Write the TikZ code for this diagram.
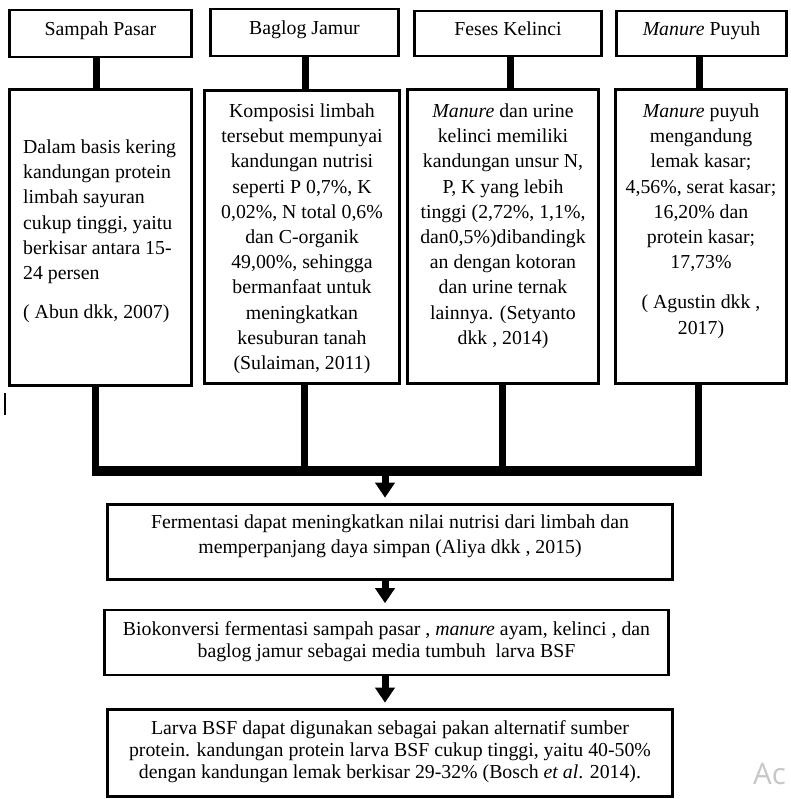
\documentclass[tikz,border=0pt]{standalone}
\usepackage{fontspec}
\setmainfont{Liberation Serif}
\newfontfamily\wmfont{Open Sans}
\usetikzlibrary{arrows.meta}
\begin{document}
\begin{tikzpicture}[x=1pt,y=-1pt,
  box/.style={draw=black, line width=2.6pt, inner sep=0pt, fill=white},
  txt/.style={font=\fontsize{19.8}{25.2}\selectfont, align=center, inner sep=0pt},
  tight/.style={font=\fontsize{19.8}{22.2}\selectfont},
  stem/.style={line width=7pt},
  bar/.style={line width=10pt},
  flow/.style={line width=7pt, -{Triangle[width=19pt,length=15pt]}, shorten >=5.5pt}]
\useasboundingbox (0,0) rectangle (790,799);
\fill[white] (0,0) rectangle (790,799);

% top label boxes
\node[box, minimum width=182pt, minimum height=47pt] (sp) at (100.5,33.5) {};
\node[box, minimum width=188pt, minimum height=47pt] (bj) at (304.5,32.5) {};
\node[box, minimum width=187pt, minimum height=45pt] (fk) at (508,33.5) {};
\node[box, minimum width=170pt, minimum height=45pt] (mp) at (701.5,33.5) {};
\node[txt, anchor=base] (tsp) at (100.5,35.5) {Sampah Pasar};
\node[txt, anchor=base] (tbj) at (304.5,35) {Baglog Jamur};
\node[txt, anchor=base] (tfk) at (508,36) {Feses Kelinci};
\node[txt, anchor=base] (tmp) at (701.5,36) {\textit{Manure} Puyuh};

% content boxes
\node[box, minimum width=182pt, minimum height=296pt] (b1) at (100.5,237.5) {};
\node[box, minimum width=195pt, minimum height=293pt] (b2) at (302,237) {};
\node[box, minimum width=191pt, minimum height=294pt] (b3) at (503,236.5) {};
\node[box, minimum width=171pt, minimum height=294pt] (b4) at (701,236.5) {};

\node[txt, align=left, anchor=north west] (t1) at (23,139.5) {Dalam basis kering\\kandungan protein\\limbah sayuran\\cukup tinggi, yaitu\\berkisar antara 15-\\24 persen\\[14pt]( Abun dkk, 2007)};
\node[txt, anchor=north] (t2) at (302,103.5) {Komposisi limbah\\tersebut mempunyai\\kandungan nutrisi\\seperti P 0,7\%, K\\0,02\%, N total 0,6\%\\dan C-organik\\49,00\%, sehingga\\bermanfaat untuk\\meningkatkan\\kesuburan tanah\\(Sulaiman, 2011)};
\node[txt, anchor=north] (t3) at (503,103.5) {\textit{Manure} dan urine\\kelinci memiliki\\kandungan unsur N,\\P, K yang lebih\\tinggi (2,72\%, 1,1\%,\\dan0,5\%)dibandingk\\an dengan kotoran\\dan urine ternak\\lainnya. (Setyanto\\dkk , 2014)};
\node[txt, anchor=north] (t4) at (701,103.5) {\textit{Manure} puyuh\\mengandung\\lemak kasar;\\4,56\%, serat kasar;\\16,20\% dan\\protein kasar;\\17,73\%\\[15pt]( Agustin dkk ,\\2017)};

% lower boxes
\node[box, minimum width=565pt, minimum height=75pt] (f) at (390,542) {};
\node[box, minimum width=564pt, minimum height=65pt] (bk) at (386.5,642.5) {};
\node[box, minimum width=565pt, minimum height=87pt] (lv) at (390,753) {};
\node[txt, anchor=north] (tf) at (390,514.5) {Fermentasi dapat meningkatkan nilai nutrisi dari limbah dan\\memperpanjang daya simpan (Aliya dkk , 2015)};
\node[txt, tight, anchor=north] (tbk) at (386.5,621.5) {Biokonversi fermentasi sampah pasar , \textit{manure} ayam, kelinci , dan\\baglog jamur sebagai media tumbuh\ \ larva BSF};
\node[txt, tight, anchor=north] (tlv) at (390,720) {Larva BSF dapat digunakan sebagai pakan alternatif sumber\\protein. kandungan protein larva BSF cukup tinggi, yaitu 40-50\%\\dengan kandungan lemak berkisar 29-32\% (Bosch \textit{et al}. 2014).};

% stems top -> content
\draw[stem] ([xshift=-4.5pt]sp.south) -- ([xshift=-4.5pt]sp.south |- b1.north);
\draw[stem] ([xshift=0.5pt]bj.south) -- ([xshift=0.5pt]bj.south |- b2.north);
\draw[stem] ([xshift=2pt]fk.south) -- ([xshift=2pt]fk.south |- b3.north);
\draw[stem] ([xshift=-2.5pt]mp.south) -- ([xshift=-2.5pt]mp.south |- b4.north);

% collector bar
\coordinate (j1) at (92,471);
\coordinate (j4) at (702,471);
\draw[stem] ([xshift=-5.5pt]b1.south) -- ([xshift=-5.5pt]b1.south |- j1);
\draw[stem] ([xshift=2pt]b2.south) -- ([xshift=2pt]b2.south |- j1);
\draw[stem] ([xshift=-1pt]b3.south) -- ([xshift=-1pt]b3.south |- j1);
\draw[stem] ([xshift=-3pt]b4.south) -- ([xshift=-3pt]b4.south |- j1);
\draw[bar] (j1) -- (j4);

% arrows
\coordinate (a1) at (385,475);
\draw[flow] (a1) -- (a1 |- f.north);
\draw[flow] ([xshift=-5pt]f.south) -- ([xshift=-5pt]f.south |- bk.north);
\draw[flow] ([xshift=-1.5pt]bk.south) -- ([xshift=-1.5pt]bk.south |- lv.north);

% stray mark and watermark
\draw[line width=1.3pt] (5,393) -- (5,415);
\node[font=\wmfont\fontsize{29.5}{30}\selectfont, text=black!22, anchor=base west, inner sep=0pt] (wm) at (753,784) {Ac};
\end{tikzpicture}
\end{document}
